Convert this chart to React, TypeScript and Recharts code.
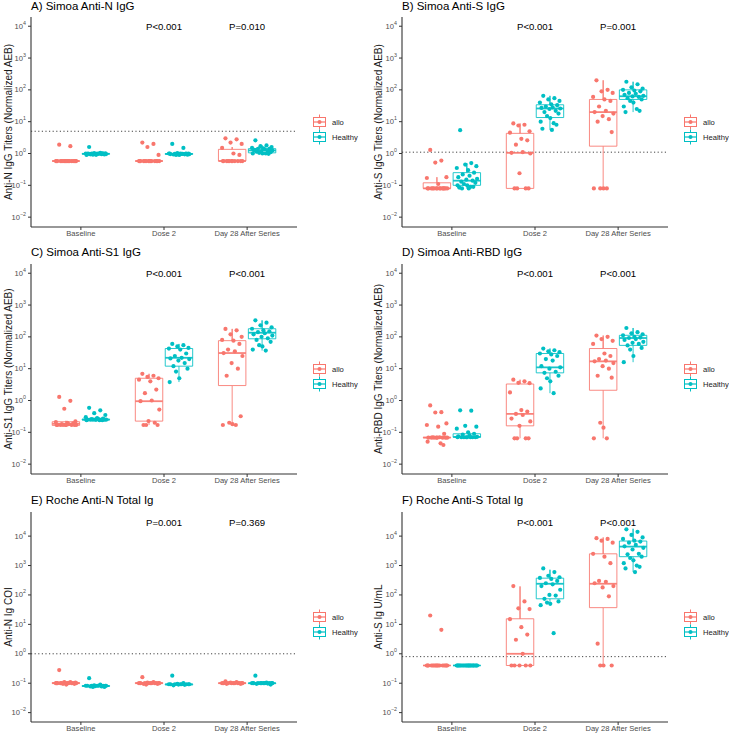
import React from 'react';
import { ComposedChart, Scatter, XAxis, YAxis, ReferenceLine, Legend } from 'recharts';

const FONT = '"Liberation Sans", Arial, Helvetica, sans-serif';
const CATEGORIES = ['Baseline', 'Dose 2', 'Day 28 After Series'];
const GROUPS = ['allo', 'Healthy'];
const GROUP_COLORS = ['#F8766D', '#00BFC4'];
const Y_TICKS = [0.01, 0.1, 1, 10, 100, 1000, 10000];
const JITTER = [-0.62, 0.41, -0.15, 0.88, -0.93, 0.12, 0.67, -0.38, 0.25, -0.79, 0.95, -0.05, 0.53, -0.51, 0.79, -0.27, 0.03, -0.86, 0.34, 0.6, -0.7, 0.18, -0.45, 0.72, -0.2];

// ---------- Panel A: Simoa Anti-N IgG ----------
const A_ALLO = [
  [1.9, 1.7, 0.58, 0.58, 0.58, 0.58, 0.58, 0.58, 0.58, 0.58, 0.58, 0.58, 0.58, 0.58, 0.58, 0.58, 0.58, 0.58, 0.58],
  [2.2, 2.0, 1.6, 0.9, 0.58, 0.58, 0.58, 0.58, 0.58, 0.58, 0.58, 0.58, 0.58, 0.58, 0.58, 0.58, 0.58, 0.58],
  [3.0, 2.8, 2.2, 2.0, 1.5, 1.0, 0.9, 0.58, 0.58, 0.58, 0.58, 0.58, 0.58, 0.58, 0.58, 0.58, 0.58, 0.58],
];
const A_ALLO_BOX = [[0.58, 0.58, 0.58, 0.58, 0.58], [0.58, 0.58, 0.58, 0.58, 0.58], [0.58, 0.58, 0.58, 1.35, 1.6]];
const A_HEALTHY = [
  [1.6, 1.05, 1.03, 1.02, 1.0, 1.0, 1.0, 0.99, 0.98, 0.97, 0.96, 0.95, 0.95, 0.94, 0.93, 0.92, 0.91, 0.9, 1.0, 1.01, 0.99],
  [2.0, 1.5, 1.03, 1.0, 1.0, 1.0, 0.99, 0.98, 0.97, 0.96, 0.95, 0.95, 0.94, 0.93, 0.92, 0.9, 0.9, 1.0, 0.98, 0.97],
  [2.6, 1.8, 1.7, 1.6, 1.5, 1.45, 1.4, 1.4, 1.35, 1.3, 1.25, 1.2, 1.2, 1.15, 1.1, 1.05, 1.0, 1.0, 1.0, 0.98, 1.3],
];
const A_HEALTHY_BOX = [[0.9, 0.95, 0.98, 1.0, 1.05], [0.9, 0.94, 0.97, 1.0, 1.03], [0.98, 1.05, 1.25, 1.42, 1.8]];
const A_PVALS = ['P<0.001', 'P=0.010'];

// ---------- Panel B: Simoa Anti-S IgG ----------
const B_ALLO = [
  [1.3, 0.6, 0.52, 0.18, 0.17, 0.11, 0.08, 0.08, 0.08, 0.08, 0.08, 0.08, 0.08, 0.08, 0.08, 0.08, 0.08, 0.08, 0.08, 0.08],
  [8.8, 8.0, 7.6, 5.0, 4.5, 2.9, 2.6, 1.9, 1.1, 1.05, 1.0, 0.24, 0.08, 0.08, 0.08, 0.08],
  [200, 100, 90, 80, 60, 50, 45, 30, 22, 20, 18, 15, 12, 10, 4.7, 0.08, 0.08, 0.08, 0.08],
];
const B_ALLO_BOX = [[0.08, 0.08, 0.08, 0.12, 0.18], [0.08, 0.08, 1.05, 4.3, 8.8], [0.08, 1.7, 20, 50, 200]];
const B_HEALTHY = [
  [5.4, 0.5, 0.45, 0.4, 0.35, 0.3, 0.25, 0.22, 0.2, 0.18, 0.16, 0.15, 0.14, 0.13, 0.12, 0.11, 0.1, 0.1, 0.09, 0.09, 0.085, 0.08, 0.08],
  [65, 55, 50, 45, 40, 35, 33, 30, 28, 27, 26, 25, 22, 20, 18, 15, 13, 10, 9, 8, 6, 5.5],
  [180, 150, 120, 110, 100, 95, 90, 80, 75, 70, 65, 62, 60, 55, 50, 45, 40, 30, 25, 22, 20],
];
const B_HEALTHY_BOX = [[0.08, 0.1, 0.14, 0.25, 0.5], [5.5, 13.5, 26, 34, 65], [20, 50, 63, 100, 180]];
const B_PVALS = ['P<0.001', 'P=0.001'];

// ---------- Panel C: Simoa Anti-S1 IgG ----------
const C_ALLO = [
  [1.3, 0.98, 0.55, 0.22, 0.21, 0.2, 0.19, 0.18, 0.18, 0.17, 0.17, 0.17, 0.17, 0.17, 0.17, 0.17, 0.17, 0.17],
  [6.9, 6.0, 5.5, 5.0, 4.5, 4.0, 2.2, 1.7, 1.0, 0.95, 0.52, 0.225, 0.2, 0.17, 0.17, 0.17],
  [178, 160, 120, 100, 80, 76, 60, 40, 35, 31, 25, 15, 10, 6, 0.32, 0.2, 0.18, 0.17, 0.17],
];
const C_ALLO_BOX = [[0.165, 0.165, 0.185, 0.215, 0.23], [0.17, 0.225, 0.95, 5.0, 6.9], [0.17, 2.95, 31, 76, 178]];
const C_HEALTHY = [
  [0.59, 0.49, 0.4, 0.35, 0.3, 0.28, 0.27, 0.26, 0.26, 0.25, 0.25, 0.25, 0.25, 0.25, 0.25, 0.25, 0.25, 0.24, 0.24, 0.24],
  [60, 55, 50, 45, 43, 40, 30, 25, 22, 21, 20, 18, 15, 12, 10, 8.1, 5, 3.8],
  [330, 280, 230, 200, 180, 160, 150, 140, 130, 120, 110, 100, 90, 80, 70, 55, 50, 40, 37],
];
const C_HEALTHY_BOX = [[0.24, 0.245, 0.25, 0.26, 0.28], [3.8, 12, 22, 43, 60], [37, 87, 135, 180, 330]];
const C_PVALS = ['P<0.001', 'P<0.001'];

// ---------- Panel D: Simoa Anti-RBD IgG ----------
const D_ALLO = [
  [0.7, 0.43, 0.42, 0.19, 0.17, 0.15, 0.09, 0.07, 0.07, 0.068, 0.068, 0.068, 0.068, 0.068, 0.068, 0.068, 0.068, 0.051, 0.045, 0.04],
  [4.5, 4.0, 3.6, 3.5, 1.8, 0.5, 0.45, 0.38, 0.35, 0.27, 0.22, 0.16, 0.065, 0.065, 0.065, 0.065],
  [110, 100, 85, 75, 60, 30, 25, 20, 18, 17, 15, 12, 10, 6, 5.2, 0.2, 0.14, 0.065, 0.065],
];
const D_ALLO_BOX = [[0.068, 0.068, 0.068, 0.07, 0.07], [0.065, 0.16, 0.38, 3.3, 4.5], [0.065, 2.1, 17, 43, 110]];
const D_HEALTHY = [
  [0.49, 0.48, 0.16, 0.15, 0.13, 0.1, 0.09, 0.085, 0.08, 0.075, 0.072, 0.07, 0.07, 0.07, 0.07, 0.07, 0.07, 0.07, 0.07],
  [43, 38, 35, 33, 30, 28, 25, 20, 18, 12, 11, 10, 8, 7.4, 6, 5, 4, 2.4, 1.7],
  [190, 140, 130, 120, 112, 100, 95, 92, 85, 80, 70, 65, 60, 54, 45, 40, 25, 16],
];
const D_HEALTHY_BOX = [[0.07, 0.07, 0.072, 0.09, 0.09], [1.7, 7.4, 11, 30, 43], [16, 54, 92, 112, 190]];
const D_PVALS = ['P<0.001', 'P<0.001'];

// ---------- Panel E: Roche Anti-N Total Ig ----------
const E_ALLO = [
  [0.28, 0.11, 0.11, 0.105, 0.1, 0.1, 0.1, 0.1, 0.1, 0.1, 0.1, 0.1, 0.1, 0.1, 0.095, 0.095, 0.09, 0.1],
  [0.16, 0.11, 0.105, 0.1, 0.1, 0.1, 0.1, 0.1, 0.1, 0.1, 0.1, 0.1, 0.1, 0.095, 0.095, 0.09],
  [0.115, 0.11, 0.105, 0.1, 0.1, 0.1, 0.1, 0.1, 0.1, 0.1, 0.1, 0.1, 0.1, 0.095, 0.095],
];
const E_ALLO_BOX = [[0.095, 0.098, 0.1, 0.105, 0.11], [0.09, 0.098, 0.1, 0.104, 0.11], [0.095, 0.098, 0.1, 0.103, 0.11]];
const E_HEALTHY = [
  [0.148, 0.09, 0.085, 0.082, 0.082, 0.082, 0.082, 0.082, 0.082, 0.082, 0.082, 0.08, 0.078, 0.078, 0.075, 0.075],
  [0.18, 0.1, 0.095, 0.092, 0.092, 0.092, 0.092, 0.092, 0.092, 0.092, 0.092, 0.09, 0.088, 0.085],
  [0.18, 0.105, 0.1, 0.1, 0.1, 0.1, 0.1, 0.1, 0.1, 0.1, 0.1, 0.1, 0.097, 0.095, 0.09],
];
const E_HEALTHY_BOX = [[0.075, 0.078, 0.08, 0.083, 0.09], [0.085, 0.088, 0.091, 0.094, 0.1], [0.09, 0.097, 0.1, 0.102, 0.105]];
const E_PVALS = ['P=0.001', 'P=0.369'];

// ---------- Panel F: Roche Anti-S Total Ig ----------
const F_ALLO = [
  [20, 6.5, 0.4, 0.4, 0.4, 0.4, 0.4, 0.4, 0.4, 0.4, 0.4, 0.4, 0.4, 0.4, 0.4, 0.4, 0.4, 0.4],
  [200, 60, 35, 33, 15, 8, 4.5, 3, 1.0, 0.4, 0.4, 0.4, 0.4, 0.4],
  [8500, 8000, 7000, 6000, 2500, 2000, 1200, 300, 280, 250, 200, 180, 90, 2.2, 0.4, 0.4, 0.4],
];
const F_ALLO_BOX = [[0.4, 0.4, 0.4, 0.4, 0.4], [0.4, 0.4, 1.0, 15.5, 195], [0.4, 37, 240, 2500, 9000]];
const F_HEALTHY = [
  [0.4, 0.4, 0.4, 0.4, 0.4, 0.4, 0.4, 0.4, 0.4, 0.4, 0.4, 0.4, 0.4, 0.4, 0.4, 0.4, 0.4, 0.4, 0.4, 0.4, 0.4, 0.4],
  [800, 600, 450, 400, 380, 350, 300, 250, 230, 200, 150, 100, 95, 74, 60, 55, 50, 45, 5],
  [17000, 14000, 11000, 9000, 8000, 7000, 6500, 6000, 5000, 4500, 4000, 3500, 2500, 2400, 2000, 1800, 1500, 1200, 1000, 900, 800, 600],
];
const F_HEALTHY_BOX = [[0.4, 0.4, 0.4, 0.4, 0.4], [44, 74, 240, 372, 720], [600, 2000, 4400, 6800, 17800]];
const F_PVALS = ['P<0.001', 'P<0.001'];

const TITLES = ['A) Simoa Anti-N IgG', 'B) Simoa Anti-S IgG', 'C) Simoa Anti-S1 IgG', 'D) Simoa Anti-RBD IgG', 'E) Roche Anti-N Total Ig', 'F) Roche Anti-S Total Ig'];
const YLABELS = ['Anti-N IgG Titers (Normalized AEB)', 'Anti-S IgG Titers (Normalized AEB)', 'Anti-S1 IgG Titers (Normalized AEB)', 'Anti-RBD IgG Titers (Normalized AEB)', 'Anti-N Ig COI', 'Anti-S Ig U/mL'];
const HLINES = [5, 1.1, null, null, 1, 0.8];
const P_Y = [10000, 10000, 10000, 10000, 30000, 30000];
const DOMAINS: [number, number][] = [
  [0.0049, 19500], [0.0049, 19500], [0.0049, 19500], [0.0049, 19500], [0.0048, 66000], [0.0048, 66000],
];

// layout (positions & sizes, separate from data)
const LAYOUT = [
  { left: 0, top: 0, width: 365, plotLeft: 31, plotRight: 297, plotTop: 17, plotBottom: 227, labelX: 8, titleTop: 1 },
  { left: 365, top: 0, width: 364, plotLeft: 37, plotRight: 303, plotTop: 17, plotBottom: 227, labelX: 13, titleTop: 1 },
  { left: 0, top: 245, width: 365, plotLeft: 31, plotRight: 297, plotTop: 19, plotBottom: 229, labelX: 8, titleTop: 2 },
  { left: 365, top: 245, width: 364, plotLeft: 37, plotRight: 303, plotTop: 19, plotBottom: 229, labelX: 13, titleTop: 2 },
  { left: 0, top: 490, width: 365, plotLeft: 31, plotRight: 297, plotTop: 22, plotBottom: 232, labelX: 8, titleTop: 5 },
  { left: 365, top: 490, width: 364, plotLeft: 37, plotRight: 303, plotTop: 22, plotBottom: 232, labelX: 13, titleTop: 5 },
];

const PANEL_DATA = [
  { allo: A_ALLO, alloBox: A_ALLO_BOX, healthy: A_HEALTHY, healthyBox: A_HEALTHY_BOX, pvals: A_PVALS },
  { allo: B_ALLO, alloBox: B_ALLO_BOX, healthy: B_HEALTHY, healthyBox: B_HEALTHY_BOX, pvals: B_PVALS },
  { allo: C_ALLO, alloBox: C_ALLO_BOX, healthy: C_HEALTHY, healthyBox: C_HEALTHY_BOX, pvals: C_PVALS },
  { allo: D_ALLO, alloBox: D_ALLO_BOX, healthy: D_HEALTHY, healthyBox: D_HEALTHY_BOX, pvals: D_PVALS },
  { allo: E_ALLO, alloBox: E_ALLO_BOX, healthy: E_HEALTHY, healthyBox: E_HEALTHY_BOX, pvals: E_PVALS },
  { allo: F_ALLO, alloBox: F_ALLO_BOX, healthy: F_HEALTHY, healthyBox: F_HEALTHY_BOX, pvals: F_PVALS },
];

const GROUP_OFFSET = [-0.18, 0.18];
const BOX_HALF = 0.165;
const JITTER_SPREAD = 0.13;
const H = 245;

const EmptyShape = () => <g />;

const makePoints = (vals: number[][], gi: number) =>
  vals.flatMap((arr, ci) =>
    arr.map((v, i) => ({ x: ci + 1 + GROUP_OFFSET[gi] + JITTER[i % JITTER.length] * JITTER_SPREAD, y: v }))
  );

const makeBoxPath = (s: number[], ci: number, gi: number) => {
  const [lo, q1, , q3, hi] = s;
  const xc = ci + 1 + GROUP_OFFSET[gi];
  const x0 = xc - BOX_HALF;
  const x1 = xc + BOX_HALF;
  return [
    { x: xc, y: lo }, { x: xc, y: q1 }, { x: x0, y: q1 }, { x: x0, y: q3 }, { x: xc, y: q3 },
    { x: xc, y: hi }, { x: xc, y: q3 }, { x: x1, y: q3 }, { x: x1, y: q1 }, { x: xc, y: q1 },
  ];
};
const makeMedian = (s: number[], ci: number, gi: number) => {
  const xc = ci + 1 + GROUP_OFFSET[gi];
  return [{ x: xc - BOX_HALF, y: s[2] }, { x: xc + BOX_HALF, y: s[2] }];
};

const LogTick = (props: any) => {
  const { x, y, payload } = props;
  const exp = Math.round(Math.log10(payload.value));
  const expStr = exp < 0 ? '\u2212' + Math.abs(exp) : String(exp);
  return (
    <text x={x} y={y} textAnchor="end" dominantBaseline="central" fontSize={7.6} fill="#4D4D4D" fontFamily={FONT}>
      10<tspan dy={-3.5} fontSize={5.3}>{expStr}</tspan>
    </text>
  );
};

const LegendContent = () => (
  <svg width={70} height={32} style={{ overflow: 'visible' }}>
    {GROUPS.map((g, i) => {
      const cy = 8 + i * 15;
      const c = GROUP_COLORS[i];
      return (
        <g key={g}>
          <line x1={6.5} x2={6.5} y1={cy - 7.5} y2={cy + 7.5} stroke={c} strokeWidth={1} />
          <rect x={0.5} y={cy - 4.5} width={12} height={9} fill="#fff" stroke={c} strokeWidth={1} />
          <line x1={0.5} x2={12.5} y1={cy} y2={cy} stroke={c} strokeWidth={1.2} />
          <circle cx={6.5} cy={cy} r={2} fill={c} />
          <text x={19} y={cy} dominantBaseline="central" fontSize={7.6} fontFamily={FONT} fill="#1a1a1a">{g}</text>
        </g>
      );
    })}
  </svg>
);

const PLabel = (p: any) => (
  <text x={p.cx} y={p.cy} textAnchor="middle" dominantBaseline="central" fontSize={9.6} fontFamily={FONT} fill="#000">
    {p.payload.label}
  </text>
);

const Dot = (color: string) => (p: any) => <circle cx={p.cx} cy={p.cy} r={2.1} fill={color} />;

const Panel = ({ idx }: { idx: number }) => {
  const L = LAYOUT[idx];
  const D = PANEL_DATA[idx];
  const groupsVals = [D.allo, D.healthy];
  const groupsBox = [D.alloBox, D.healthyBox];
  const hline = HLINES[idx];
  const plotCenter = (L.plotTop + L.plotBottom) / 2;
  const pData = D.pvals.map((label, i) => ({ x: i + 2, y: P_Y[idx], label }));
  return (
    <div style={{ position: 'absolute', left: L.left, top: L.top, width: L.width, height: H }}>
      <div
        style={{
          position: 'absolute', left: L.plotLeft, top: L.titleTop, fontSize: 11.5, lineHeight: '11.5px',
          fontFamily: FONT, color: '#000', whiteSpace: 'nowrap', zIndex: 2,
        }}
      >
        {TITLES[idx]}
      </div>
      <ComposedChart
        width={L.width}
        height={H}
        margin={{ top: L.plotTop, right: L.width - L.plotRight, bottom: H - L.plotBottom - 10, left: 0 }}
      >
        <XAxis
          type="number"
          dataKey="x"
          domain={[0.4, 3.6]}
          ticks={[1, 2, 3]}
          interval={0}
          allowDataOverflow
          tickFormatter={(v: number) => CATEGORIES[v - 1]}
          height={10}
          tickSize={3}
          tickMargin={1}
          tick={{ fontSize: 7.6, fill: '#4D4D4D', fontFamily: FONT }}
          axisLine={{ stroke: '#333', strokeWidth: 1.1 }}
          tickLine={{ stroke: '#333' }}
        />
        <YAxis
          type="number"
          dataKey="y"
          scale="log"
          domain={DOMAINS[idx]}
          allowDataOverflow
          ticks={Y_TICKS}
          interval={0}
          width={L.plotLeft}
          tickSize={3}
          tickMargin={2}
          tick={<LogTick />}
          axisLine={{ stroke: '#333', strokeWidth: 1.1 }}
          tickLine={{ stroke: '#333' }}
          label={{
            value: YLABELS[idx], angle: -90, position: 'insideLeft', offset: L.labelX,
            style: { textAnchor: 'middle', fontSize: 10, fill: '#1a1a1a', fontFamily: FONT },
          }}
        />
        {hline != null && (
          <ReferenceLine y={hline} stroke="#444" strokeWidth={1} strokeDasharray="1.2 2.4" />
        )}
        {groupsBox.map((boxes, gi) =>
          boxes.map((s, ci) => (
            <Scatter
              key={`box-${gi}-${ci}`}
              data={makeBoxPath(s, ci, gi)}
              line={{ stroke: GROUP_COLORS[gi], strokeWidth: 1, strokeOpacity: 0.85 }}
              lineJointType="linear"
              shape={EmptyShape}
              legendType="none"
              isAnimationActive={false}
            />
          ))
        )}
        {groupsBox.map((boxes, gi) =>
          boxes.map((s, ci) => (
            <Scatter
              key={`med-${gi}-${ci}`}
              data={makeMedian(s, ci, gi)}
              line={{ stroke: GROUP_COLORS[gi], strokeWidth: 1.8, strokeOpacity: 0.9 }}
              lineJointType="linear"
              shape={EmptyShape}
              legendType="none"
              isAnimationActive={false}
            />
          ))
        )}
        {groupsVals.map((vals, gi) => (
          <Scatter
            key={`pts-${gi}`}
            name={GROUPS[gi]}
            data={makePoints(vals, gi)}
            shape={Dot(GROUP_COLORS[gi])}
            isAnimationActive={false}
          />
        ))}
        <Scatter data={pData} shape={PLabel} legendType="none" isAnimationActive={false} />
        <Legend
          layout="vertical"
          align="center"
          verticalAlign="middle"
          content={LegendContent}
          wrapperStyle={{ left: L.plotRight + 16, top: plotCenter - 8, width: 70, height: 32 }}
        />
      </ComposedChart>
    </div>
  );
};

export default function App() {
  return (
    <div style={{ position: 'absolute', left: 0, top: 0, width: 729, height: 735, background: '#fff', overflow: 'hidden' }}>
      {LAYOUT.map((_, i) => (
        <Panel key={i} idx={i} />
      ))}
    </div>
  );
}
